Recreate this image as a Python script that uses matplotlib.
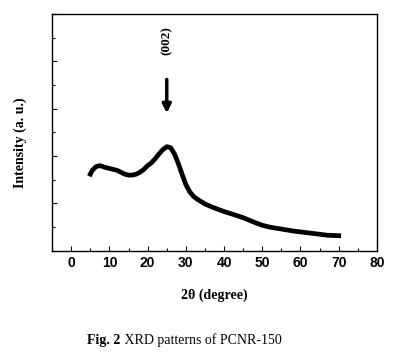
import matplotlib
matplotlib.use("Agg")
from matplotlib import pyplot as plt
from matplotlib.ticker import MultipleLocator

# XRD pattern (2theta in degree, intensity in a.u.)
two_theta = [5, 5.5, 6.5, 7.5, 9, 10, 11, 12, 13, 14, 15, 16, 17, 18, 19, 20, 21, 22,
             23, 24, 25, 26, 27, 28, 29, 30, 31, 32, 33, 34, 35, 37, 40, 42, 45,
             48, 50, 52, 55, 58, 60, 62, 65, 67, 70]
intensity = [1.62, 1.70, 1.78, 1.80, 1.76, 1.74, 1.72, 1.70, 1.66, 1.62, 1.60, 1.60, 1.62, 1.66, 1.72, 1.80, 1.86, 1.95,
             2.05, 2.14, 2.20, 2.18, 2.05, 1.85, 1.62, 1.40, 1.25, 1.15, 1.09, 1.04, 0.99, 0.92, 0.83, 0.78, 0.70,
             0.60, 0.54, 0.50, 0.46, 0.42, 0.40, 0.38, 0.35, 0.33, 0.32]

peak_pos = 25
peak_label = "(002)"
xticks = [0, 10, 20, 30, 40, 50, 60, 70, 80]

fig = plt.figure(figsize=(3.98, 3.63), dpi=100)
ax = fig.add_axes([0.131, 0.309, 0.816, 0.652])

ax.plot(two_theta, intensity, color="black", lw=3.4, solid_joinstyle="round")

ax.annotate("", xy=(peak_pos, 2.85), xytext=(peak_pos, 3.68),
            arrowprops=dict(arrowstyle="-|>,head_width=0.25,head_length=0.5",
                            lw=2.5, color="black"))
ax.text(peak_pos, 4.45, peak_label, rotation=90, ha="center", va="center",
        family="Liberation Serif", fontweight="bold", fontsize=9.5)

ax.set_xlim(-5, 80)
ax.set_ylim(0, 5)
ax.set_xticks(xticks)
ax.xaxis.set_minor_locator(MultipleLocator(5))
ax.yaxis.set_major_locator(MultipleLocator(1))
ax.yaxis.set_minor_locator(MultipleLocator(0.5))
ax.set_yticklabels([])
ax.tick_params(which="both", direction="in", width=0.8, top=False, right=False)
ax.tick_params(which="major", length=3.5, pad=4)
ax.tick_params(which="minor", length=2)
for lab in ax.get_xticklabels():
    lab.set_family("Liberation Sans")
    lab.set_fontweight("bold")
    lab.set_fontsize(10)
for sp in ax.spines.values():
    sp.set_linewidth(1.0)

ax.set_xlabel("2θ (degree)", family="Liberation Serif", fontweight="bold", fontsize=10)
ax.xaxis.set_label_coords(0.5, -0.16)
ax.set_ylabel("Intensity (a. u.)", family="Liberation Serif", fontweight="bold", fontsize=10)
ax.yaxis.set_label_coords(-0.077, 0.455)

# caption: bold "Fig. 2" followed by regular text
t1 = fig.text(0.219, 0.052, "Fig. 2", family="Liberation Serif", fontweight="bold", fontsize=10)
fig.canvas.draw()
x_end = t1.get_window_extent().x1 / fig.bbox.width
fig.text(x_end, 0.052, " XRD patterns of PCNR-150", family="Liberation Serif", fontsize=10)

fig.savefig("out.png", dpi=100)
